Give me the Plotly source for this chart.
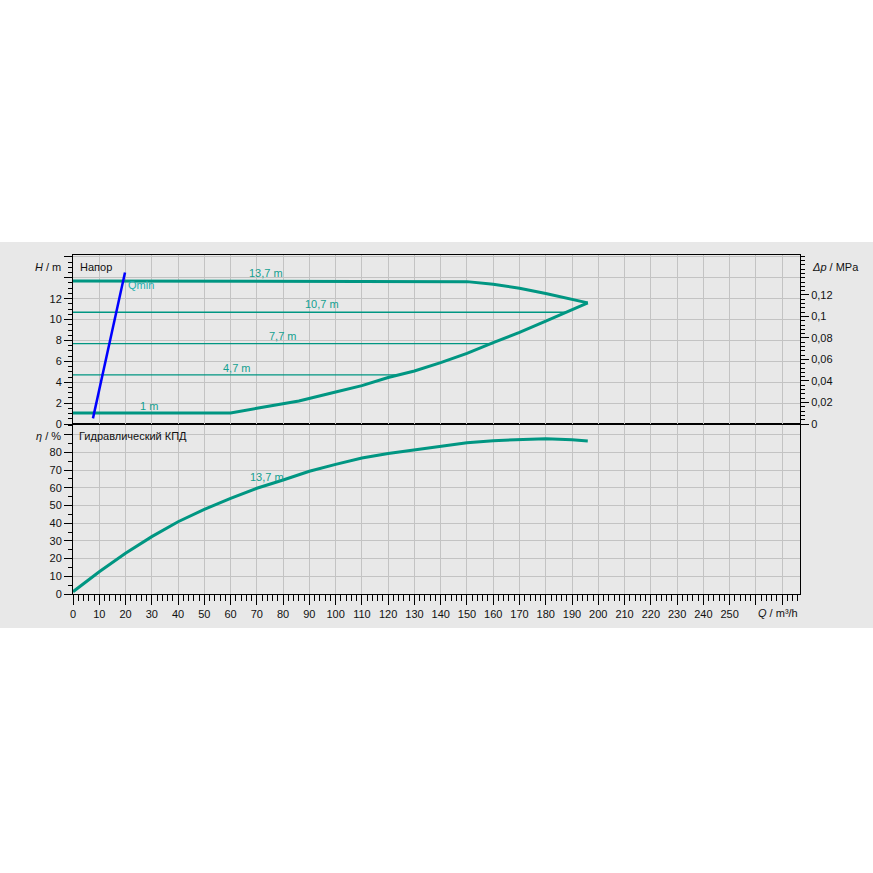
import plotly.graph_objects as go

# ---------------- data ----------------
# Head curve at max speed (13,7 m)
q_max = [0, 147, 150, 160, 170, 180, 190, 196]
h_max = [13.7, 13.7, 13.63, 13.37, 13.0, 12.5, 11.97, 11.6]

# Head curve at min setting (1 m) rising to the max flow point
q_min = [0, 60, 70, 79, 86, 100, 110, 120, 130, 140, 150, 160, 170, 180, 190, 196]
h_min = [1.05, 1.05, 1.5, 1.92, 2.2, 3.06, 3.67, 4.45, 5.07, 5.87, 6.77, 7.79, 8.78, 9.86, 10.98, 11.6]

# Intermediate set-points (horizontal control lines)
h_levels = [10.7, 7.7, 4.7]
q_level_end = [188, 160, 124]

# Qmin line
qmin_q = [7.6, 19.8]
qmin_h = [0.54, 14.5]

# Hydraulic efficiency
q_eta = [0, 10, 20, 30, 40, 50, 60, 70, 80, 90, 100, 110, 120, 130, 140, 150, 160, 170, 180, 190, 196]
eta = [1.3, 12.6, 23.0, 32.4, 40.8, 47.8, 54.0, 59.7, 64.4, 69.3, 73.2, 76.8, 79.4, 81.5, 83.6, 85.4, 86.6, 87.1, 87.7, 87.1, 86.4]

# Curve labels
lbl_text = ["13,7 m", "10,7 m", "7,7 m", "4,7 m", "1 m"]
lbl_q = [73.4, 94.8, 79.8, 62.3, 28.8]
lbl_h = [14.45, 11.5, 8.4, 5.35, 1.72]
eta_lbl_q = 74
eta_lbl_v = 65.8

# Axis ticks
x_ticks = list(range(0, 280, 10))
x_ticktext = [str(v) if v <= 250 else "" for v in x_ticks]
h_ticks = [0, 2, 4, 6, 8, 10, 12, 14, 16]
h_ticktext = ["0", "2", "4", "6", "8", "10", "12", "", ""]
p_ticks = [0, 0.02, 0.04, 0.06, 0.08, 0.1, 0.12]
p_ticktext = ["0", "0,02", "0,04", "0,06", "0,08", "0,1", "0,12"]
e_ticks = [0, 10, 20, 30, 40, 50, 60, 70, 80, 90]
e_ticktext = ["0", "10", "20", "30", "40", "50", "60", "70", "80", ""]

X_MAX = 276.8
H_MAX = 16.18
P_MAX = 0.1571
E_MAX = 96

TEAL = "#009682"
LBL = "#14a090"
GRID = "#c3c3c3"
BG = "#e8e8e8"
FONT = "Liberation Sans, Arial, sans-serif"

fig = go.Figure()

# thin set-point lines
for h, qe in zip(h_levels, q_level_end):
    fig.add_trace(go.Scatter(x=[0, qe], y=[h, h], mode="lines",
                             line=dict(color=TEAL, width=1.3),
                             xaxis="x2", yaxis="y", hoverinfo="skip", showlegend=False))

fig.add_trace(go.Scatter(x=q_max, y=h_max, mode="lines", line=dict(color=TEAL, width=3),
                         xaxis="x2", yaxis="y", showlegend=False))
fig.add_trace(go.Scatter(x=q_min, y=h_min, mode="lines", line=dict(color=TEAL, width=3),
                         xaxis="x2", yaxis="y", showlegend=False))
fig.add_trace(go.Scatter(x=qmin_q, y=qmin_h, mode="lines", line=dict(color="#0000ff", width=2.5),
                         xaxis="x2", yaxis="y", showlegend=False))
fig.add_trace(go.Scatter(x=q_eta, y=eta, mode="lines", line=dict(color=TEAL, width=3),
                         xaxis="x", yaxis="y2", showlegend=False))

tick_font = dict(family=FONT, size=11, color="#111")

top_dom = [170 / 339, 1]
bot_dom = [0, 170 / 339]

fig.update_layout(
    width=873, height=873,
    margin=dict(l=73, r=73, t=255, b=279),
    paper_bgcolor="white",
    plot_bgcolor=BG,
    font=dict(family=FONT, size=11, color="#111"),
    showlegend=False,
    xaxis=dict(domain=[0, 1], anchor="y2", range=[0, X_MAX],
               tickmode="array", tickvals=x_ticks, ticktext=x_ticktext,
               ticks="outside", ticklen=10, tickcolor="black", tickwidth=1,
               minor=dict(dtick=2, tick0=0, ticks="outside", ticklen=6, tickcolor="black", showgrid=False),
               showgrid=True, gridcolor=GRID, gridwidth=1,
               showline=True, linecolor="black", linewidth=1, mirror=True,
               zeroline=False, tickfont=tick_font, fixedrange=True),
    xaxis2=dict(domain=[0, 1], anchor="y", range=[0, X_MAX], matches="x",
                tickmode="array", tickvals=x_ticks, showticklabels=False, ticks="",
                showgrid=True, gridcolor=GRID, gridwidth=1,
                showline=True, linecolor="black", linewidth=1, mirror=True,
                zeroline=False),
    yaxis=dict(domain=top_dom, anchor="x2", range=[0, H_MAX],
               tickmode="array", tickvals=h_ticks, ticktext=h_ticktext,
               ticks="outside", ticklen=8, tickcolor="black",
               minor=dict(dtick=0.5, tick0=0, ticks="outside", ticklen=4, tickcolor="black", showgrid=False),
               showgrid=True, gridcolor=GRID, gridwidth=1,
               showline=True, linecolor="black", linewidth=1, mirror=True,
               zeroline=False, tickfont=tick_font),
    yaxis3=dict(overlaying="y", anchor="x2", side="right", range=[0, P_MAX],
                tickmode="array", tickvals=p_ticks, ticktext=p_ticktext,
                ticks="outside", ticklen=8, tickcolor="black",
                minor=dict(dtick=0.004, tick0=0, ticks="outside", ticklen=4, tickcolor="black", showgrid=False),
                showgrid=False, showline=True, linecolor="black", linewidth=1,
                zeroline=False, tickfont=tick_font),
    yaxis2=dict(domain=bot_dom, anchor="x", range=[0, E_MAX],
                tickmode="array", tickvals=e_ticks, ticktext=e_ticktext,
                ticks="outside", ticklen=8, tickcolor="black",
                minor=dict(dtick=5, tick0=0, ticks="outside", ticklen=4, tickcolor="black", showgrid=False),
                showgrid=True, gridcolor=GRID, gridwidth=1,
                showline=True, linecolor="black", linewidth=1, mirror=True,
                zeroline=False, tickfont=tick_font),
)

# dummy trace so yaxis3 renders
fig.add_trace(go.Scatter(x=[0], y=[0], mode="markers", marker=dict(opacity=0),
                         xaxis="x2", yaxis="y3", hoverinfo="skip", showlegend=False))

# gray background band
fig.add_shape(type="rect", xref="paper", yref="paper",
              x0=-73 / 727, x1=800 / 727, y0=(594 - 628) / 339, y1=(594 - 242) / 339,
              fillcolor=BG, line=dict(width=0), layer="below")

ann = []
for t, q, h in zip(lbl_text, lbl_q, lbl_h):
    ann.append(dict(x=q, y=h, xref="x2", yref="y", text=t, showarrow=False,
                    font=dict(color=LBL, size=11, family=FONT)))
ann.append(dict(x=eta_lbl_q, y=eta_lbl_v, xref="x", yref="y2", text="13,7 m", showarrow=False,
                font=dict(color=LBL, size=11, family=FONT)))
ann.append(dict(x=qmin_q[1], y=13.3, xref="x2", yref="y", text="Qmin", showarrow=False,
                xanchor="left", xshift=1, font=dict(color="#22b0b0", size=11, family=FONT)))
ann.append(dict(x=0, y=15, xref="paper", yref="y", text="Напор", showarrow=False,
                xanchor="left", xshift=5, font=dict(color="#111", size=11, family=FONT)))
ann.append(dict(x=0, y=89, xref="paper", yref="y2", text="Гидравлический КПД", showarrow=False,
                xanchor="left", xshift=4, font=dict(color="#111", size=11, family=FONT)))
ann.append(dict(x=0, y=15, xref="paper", yref="y", text="<i>H</i> / m", showarrow=False,
                xanchor="right", xshift=-10, font=dict(color="#111", size=11, family=FONT)))
ann.append(dict(x=0, y=89, xref="paper", yref="y2", text="<i>η</i> / %", showarrow=False,
                xanchor="right", xshift=-10, font=dict(color="#111", size=11, family=FONT)))
ann.append(dict(x=1, y=15, xref="paper", yref="y", text="<i>Δp</i> / MPa", showarrow=False,
                xanchor="left", xshift=10, font=dict(color="#111", size=11, family=FONT)))
ann.append(dict(x=1, y=0, xref="paper", yref="paper", text="<i>Q</i> / m³/h", showarrow=False,
                xanchor="right", yanchor="middle", yshift=-19, font=dict(color="#111", size=11, family=FONT)))
fig.update_layout(annotations=ann)

fig.write_html("out.html", config={"displayModeBar": False},
               post_script="document.body.style.margin='0';document.body.style.overflow='hidden';")
